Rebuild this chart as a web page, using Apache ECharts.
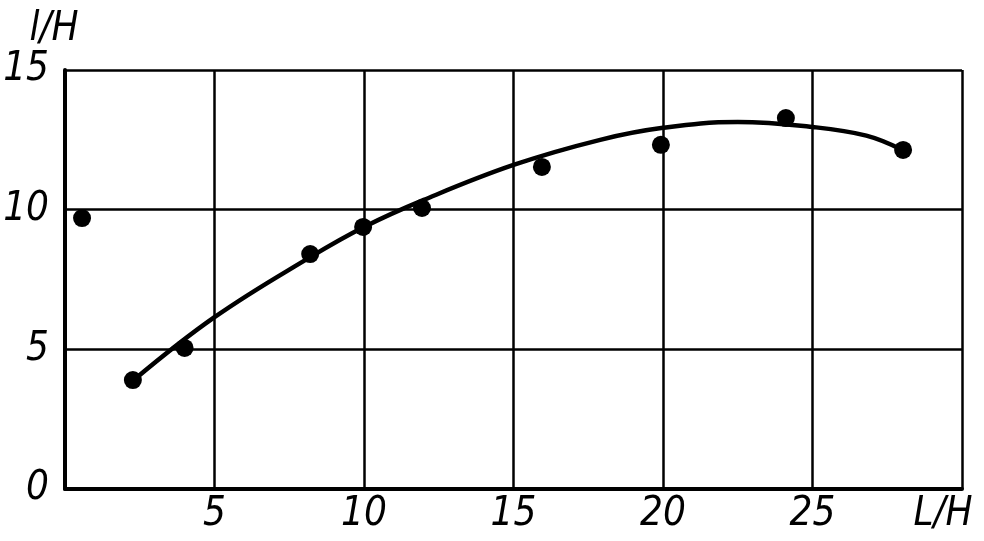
<!DOCTYPE html>
<html>
<head>
<meta charset="utf-8">
<script src="https://cdn.jsdelivr.net/npm/echarts@6/dist/echarts.min.js"></script>
<style>
html,body{margin:0;padding:0;background:#fff;}
#chart{width:984px;height:541px;}
</style>
</head>
<body>
<div id="chart"></div>
<script>
// Measured points (L/H, l/H)
const pointsX = [0.57, 2.27, 4.0, 8.2, 9.97, 11.94, 15.95, 19.93, 24.11, 28.03];
const pointsY = [9.7, 3.9, 5.05, 8.41, 9.38, 10.06, 11.53, 12.32, 13.28, 12.14];
// Fitted curve
const curveX = [2.3, 5, 8.2, 10, 12, 15, 17.9, 20, 22.5, 25, 26.8, 28];
const curveY = [3.9, 6.15, 8.3, 9.38, 10.35, 11.6, 12.5, 12.93, 13.14, 12.96, 12.65, 12.14];
// Tick labels
const xTickValues = [0, 5, 10, 15, 20, 25, 30];
const xTickLabels = ['', '5', '10', '15', '20', '25', 'L/H'];
const yTickValues = [0, 5, 10, 15];
const yTickLabels = ['0', '5', '10', '15'];
const yName = 'l/H';

const FONT = '"Liberation Sans Narrow", "DejaVu Sans Condensed", "Liberation Sans", sans-serif';
const chart = echarts.init(document.getElementById('chart'), null, {renderer: 'canvas'});
const labelStyle = {color: '#000', fontFamily: FONT, fontStyle: 'italic', fontSize: 40};

chart.setOption({
  backgroundColor: '#fff',
  animation: false,
  grid: {left: 65, right: 22, top: 70, bottom: 52, containLabel: false, outerBoundsMode: 'none'},
  xAxis: {
    type: 'value', min: 0, max: 30, interval: 5,
    axisLine: {show: true, onZero: false, lineStyle: {color: '#000', width: 4}},
    axisTick: {show: false},
    splitLine: {show: true, lineStyle: {color: '#000', width: 2.5}},
    axisLabel: Object.assign({}, labelStyle, {
      margin: 6,
      formatter: v => {
        const i = xTickValues.indexOf(v);
        if (i < 0) return '';
        return i === xTickValues.length - 1 ? '{e|' + xTickLabels[i] + '}' : xTickLabels[i];
      },
      rich: {e: Object.assign({}, labelStyle, {padding: [0, 38, 0, 0]})}
    })
  },
  yAxis: {
    type: 'value', min: 0, max: 15, interval: 5,
    name: yName, nameLocation: 'end', nameGap: 6,
    nameTextStyle: Object.assign({}, labelStyle, {align: 'center', padding: [0, 22, 0, 0]}),
    axisLine: {show: true, onZero: false, lineStyle: {color: '#000', width: 4}},
    axisTick: {show: false},
    splitLine: {show: true, lineStyle: {color: '#000', width: 2.5}},
    axisLabel: Object.assign({}, labelStyle, {
      margin: 16, padding: [12, 0, 0, 0],
      formatter: v => { const i = yTickValues.indexOf(v); return i >= 0 ? yTickLabels[i] : ''; }
    })
  },
  series: [
    {
      type: 'line', smooth: 0.4, showSymbol: false,
      data: curveX.map((x, i) => [x, curveY[i]]),
      lineStyle: {color: '#000', width: 4.5},
      z: 3
    },
    {
      type: 'scatter', symbol: 'circle', symbolSize: 18,
      data: pointsX.map((x, i) => [x, pointsY[i]]),
      itemStyle: {color: '#000', opacity: 1},
      z: 4
    }
  ]
});
</script>
</body>
</html>
